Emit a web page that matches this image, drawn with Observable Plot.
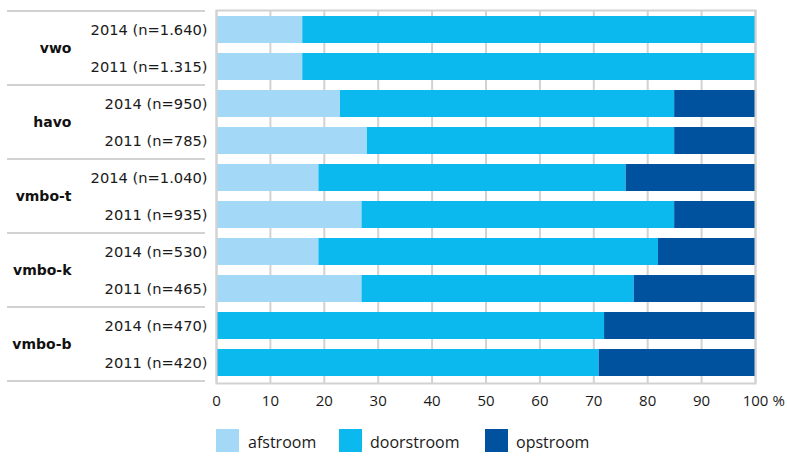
<!DOCTYPE html>
<html>
<head>
<meta charset="utf-8">
<script src="https://cdn.jsdelivr.net/npm/d3@7"></script>
<script src="https://cdn.jsdelivr.net/npm/@observablehq/plot@0.6"></script>
<style>
  html, body { margin: 0; padding: 0; background: #fff; }
  #wrap { position: relative; width: 787px; height: 457px; overflow: hidden; }
  #legend { position: relative; width: 787px; height: 37px; font-family: "Open Sans", sans-serif; font-size: 16px; color: #1a1a1a; }
  .sw { position: absolute; top: 9px; width: 23px; height: 23px; }
  .lb { position: absolute; top: 10px; line-height: 24px; }
</style>
</head>
<body>
<div id="wrap"></div>
<script>
// ---- data ----
const groups = ["vwo", "havo", "vmbo-t", "vmbo-k", "vmbo-b"];
const rowGroups = ["vwo", "vwo", "havo", "havo", "vmbo-t", "vmbo-t", "vmbo-k", "vmbo-k", "vmbo-b", "vmbo-b"];
const rowLabels = [
  "2014 (n=1.640)", "2011 (n=1.315)",
  "2014 (n=950)", "2011 (n=785)",
  "2014 (n=1.040)", "2011 (n=935)",
  "2014 (n=530)", "2011 (n=465)",
  "2014 (n=470)", "2011 (n=420)"
];
const categories = ["afstroom", "doorstroom", "opstroom"];
const afstroom   = [16, 16, 23, 28, 19, 27, 19, 27, 0, 0];
const doorstroom = [84, 84, 62, 57, 57, 58, 63, 50.5, 72, 71];
const opstroom   = [0, 0, 15, 15, 24, 15, 18, 22.5, 28, 29];
const xTicks = [0, 10, 20, 30, 40, 50, 60, 70, 80, 90, 100];
const colors = ["#a3d9f6", "#0cb9ee", "#00529e"];

// ---- build table ----
const rows = rowLabels.map((label, i) => ({key: rowGroups[i] + "|" + label, group: rowGroups[i], label}));
const series = [afstroom, doorstroom, opstroom];
const table = [];
rows.forEach((r, i) => categories.forEach((c, j) => table.push({key: r.key, category: c, value: series[j][i]})));
const firstRows = groups.map(g => rows.find(r => r.group === g));

const H = 420, mTop = 10, mBottom = 37;
const bandStep = (H - mTop - mBottom) / rows.length;
const tickPad = 12;

const chart = Plot.plot({
  width: 787,
  height: H,
  marginLeft: 216,
  marginRight: 32,
  marginTop: mTop,
  marginBottom: mBottom,
  x: {domain: [0, 100], axis: null, label: null},
  y: {domain: rows.map(r => r.key), paddingInner: 0.27, paddingOuter: 0.135, axis: null},
  color: {domain: categories, range: colors},
  marks: [
    Plot.gridX(xTicks, {stroke: "#d2d2d2", strokeOpacity: 1, strokeWidth: 2}),
    Plot.barX(table, Plot.stackX({x: "value", y: "key", fill: "category", order: categories})),
    Plot.frame({stroke: "#d2d2d2", strokeWidth: 2}),
    Plot.axisX(xTicks, {label: null, tickSize: 0, tickPadding: tickPad, fontSize: 15, fontFamily: "Open Sans", fill: "#1a1a1a"}),
    Plot.text(["%"], {x: () => 100, frameAnchor: "bottom", lineAnchor: "top", dy: tickPad, dx: 17, textAnchor: "start", fontSize: 15, fontFamily: "Open Sans", fill: "#1a1a1a"}),
    Plot.text(rows, {y: "key", text: "label", frameAnchor: "left", textAnchor: "end", dx: -9, fontSize: 14.67, fontFamily: "DejaVu Sans", fill: "#1a1a1a"}),
    Plot.text(firstRows, {y: "key", text: "group", frameAnchor: "left", textAnchor: "end", dx: -145, dy: bandStep / 2, fontSize: 14, fontWeight: "bold", fontFamily: "DejaVu Sans", fill: "#111"})
  ]
});

// group separator lines on the left
const ys = chart.scale("y");
const svg = d3.select(chart.tagName.toLowerCase() === "svg" ? chart : chart.querySelector("svg"));
const off = (ys.step - ys.bandwidth) / 2;
const seps = firstRows.map(r => ys.apply(r.key) - off);
const lastRow = rows[rows.length - 1];
seps.push(ys.apply(lastRow.key) + ys.bandwidth + off);
svg.append("g").selectAll("line").data(seps).join("line")
  .attr("x1", 7).attr("x2", 205)
  .attr("y1", d => d).attr("y2", d => d)
  .attr("stroke", "#d2d2d2").attr("stroke-width", 2);

const wrap = document.getElementById("wrap");
wrap.appendChild(chart);

// legend
const legend = document.createElement("div");
legend.id = "legend";
const pos = [[216, 248], [339, 370], [485, 516]];
categories.forEach((c, i) => {
  const sw = document.createElement("div");
  sw.className = "sw";
  sw.style.left = pos[i][0] + "px";
  sw.style.background = colors[i];
  const lb = document.createElement("div");
  lb.className = "lb";
  lb.style.left = pos[i][1] + "px";
  lb.textContent = c;
  legend.appendChild(sw);
  legend.appendChild(lb);
});
wrap.appendChild(legend);
</script>
</body>
</html>
